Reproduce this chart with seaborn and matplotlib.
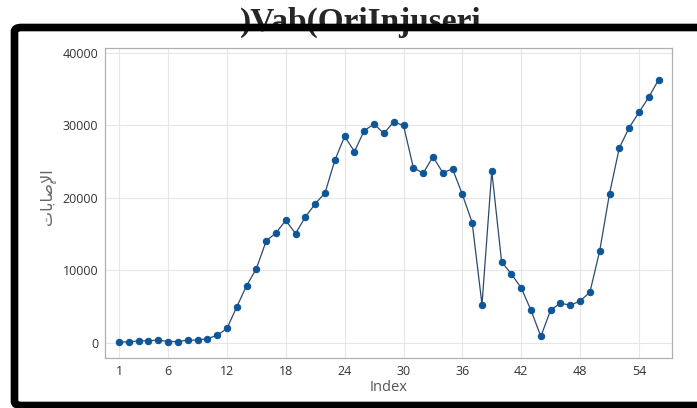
import matplotlib
matplotlib.use("Agg")
import matplotlib.pyplot as plt
from matplotlib.patches import FancyBboxPatch
import seaborn as sns
import pandas as pd

index = list(range(1, 57))
cases = [140, 140, 300, 300, 400, 200, 200, 400, 400, 600,
         1050, 2000, 4970, 7900, 10250, 14070, 15200, 16900, 15100, 17400,
         19200, 20700, 25200, 28500, 26400, 29300, 30200, 28900, 30500, 30000,
         24200, 23400, 25700, 23500, 24000, 20500, 16600, 5300, 23700, 11200,
         9500, 7600, 4500, 900, 4550, 5500, 5200, 5800, 7000, 12700,
         20600, 26900, 29700, 31800, 33900, 36300]
x_ticks = [1, 6, 12, 18, 24, 30, 36, 42, 48, 54]
y_ticks = [0, 10000, 20000, 30000, 40000]
title_text = ")Vab(OriInjuseri"
# "الإصابات" written in visual order with Arabic presentation forms (matplotlib does not shape Arabic)
y_label = "\ufe95\ufe8e\ufe91\ufe8e\ufebb\ufef9\ufe8d"
x_label = "Index"

df = pd.DataFrame({"Index": index, "cases": cases})

sns.set_theme(style="whitegrid")
plt.rcParams["font.family"] = ["Open Sans", "DejaVu Sans"]

fig = plt.figure(figsize=(6.97, 4.08), dpi=100)
ax = fig.add_axes([105/697, 1-358/408, (672-105)/697, (358-47.7)/408])

sns.lineplot(data=df, x="Index", y="cases", ax=ax, color="#2c4a6e", linewidth=0.9,
             marker="o", markersize=4.6, markerfacecolor="#0d5699",
             markeredgecolor="#0d5699")

ax.set_xlim(-0.43, 57.37)
ax.set_ylim(-2070, 40730)
ax.set_xticks(x_ticks)
ax.set_yticks(y_ticks)
ax.grid(True, color="#e6e6e6", linewidth=0.8)
for s in ax.spines.values():
    s.set_color("#b0b0b0")
    s.set_linewidth(0.9)
ax.tick_params(axis="both", which="major", length=3, width=0.8, color="#b0b0b0",
               labelsize=9, labelcolor="#333333", pad=2)
ax.set_xlabel(x_label, fontsize=10.5, color="#555555")
ax.xaxis.set_label_coords(0.5, -0.07)
ax.set_ylabel(y_label, fontsize=11.5, color="#666666", family=["DejaVu Sans"])
ax.yaxis.set_label_coords(-0.088, 0.52)

fig.text(0.517, 1 - 7/408, title_text, ha="center", va="top", fontsize=24,
         fontweight="bold", family="Liberation Serif", zorder=0)

border = FancyBboxPatch((14.5/697, 2.5/408), 720/697, (380.5-2.5)/408,
                        boxstyle="round,pad=0,rounding_size=0.01",
                        transform=fig.transFigure, facecolor="none",
                        edgecolor="black", linewidth=5.5, zorder=10)
fig.patches.append(border)

fig.savefig("out.png", dpi=100)
